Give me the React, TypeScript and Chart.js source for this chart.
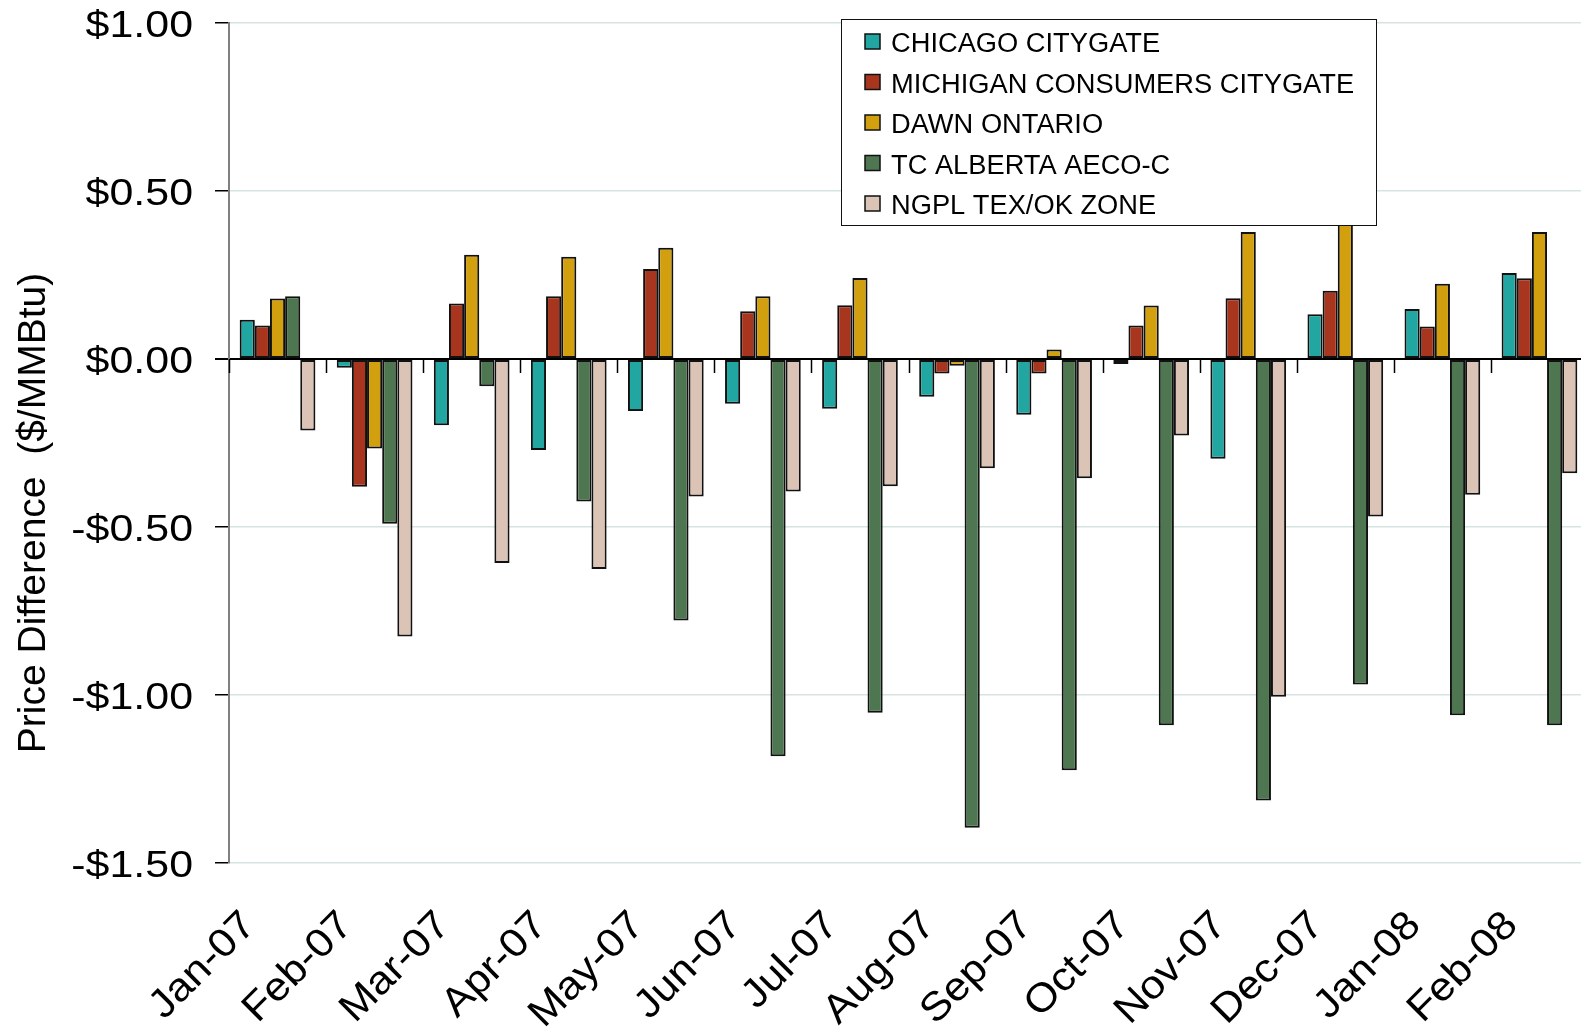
import React, { useEffect, useRef } from "react";
import { Chart, registerables } from "chart.js";

Chart.register(...registerables);

const categories = [
  "Jan-07", "Feb-07", "Mar-07", "Apr-07", "May-07", "Jun-07", "Jul-07",
  "Aug-07", "Sep-07", "Oct-07", "Nov-07", "Dec-07", "Jan-08", "Feb-08",
];

const chicagoCitygate = [0.117, -0.026, -0.197, -0.271, -0.155, -0.133, -0.148, -0.112, -0.166, -0.015, -0.297, 0.133, 0.149, 0.256];
const michiganConsumers = [0.1, -0.38, 0.165, 0.187, 0.268, 0.142, 0.16, -0.043, -0.043, 0.1, 0.181, 0.203, 0.097, 0.24];
const dawnOntario = [0.18, -0.266, 0.31, 0.304, 0.331, 0.187, 0.241, -0.02, 0.028, 0.159, 0.378, 0.44, 0.224, 0.378];
const tcAlberta = [0.187, -0.49, -0.081, -0.424, -0.778, -1.182, -1.053, -1.395, -1.224, -1.09, -1.314, -0.969, -1.06, -1.09];
const ngplTexOk = [-0.213, -0.826, -0.607, -0.625, -0.409, -0.394, -0.379, -0.325, -0.355, -0.228, -1.005, -0.469, -0.404, -0.34];

const seriesNames = [
  "CHICAGO CITYGATE",
  "MICHIGAN CONSUMERS CITYGATE",
  "DAWN ONTARIO",
  "TC ALBERTA AECO-C",
  "NGPL TEX/OK ZONE",
];
const seriesValues = [chicagoCitygate, michiganConsumers, dawnOntario, tcAlberta, ngplTexOk];
const seriesColors = ["#22A6A2", "#A8361F", "#D2A00F", "#4E7650", "#DBC3B5"];

const yTickValues = [1, 0.5, 0, -0.5, -1, -1.5];
const yTickLabels = ["$1.00", "$0.50", "$0.00", "-$0.50", "-$1.00", "-$1.50"];
const yAxisTitle = "Price Difference  ($/MMBtu)";

const FONT = '"Liberation Sans", Arial, Helvetica, sans-serif';

function drawText(
  ctx: CanvasRenderingContext2D,
  text: string,
  x: number,
  y: number,
  size: number,
  sx: number,
  align: CanvasTextAlign,
  angle = 0
) {
  ctx.save();
  ctx.translate(x, y);
  ctx.rotate(angle);
  ctx.scale(sx, 1);
  ctx.font = `${size}px ${FONT}`;
  ctx.fillStyle = "#000";
  ctx.textAlign = align;
  ctx.textBaseline = "alphabetic";
  ctx.fillText(text, 0, 0);
  ctx.restore();
}

const overlayPlugin = {
  id: "overlayText",
  afterDraw(chart: any) {
    const ctx: CanvasRenderingContext2D = chart.ctx;
    const xs = chart.scales.x;
    const ys = chart.scales.y;
    const area = chart.chartArea;
    ctx.save();

    // category boundary tick marks below the zero line
    const zeroY = ys.getPixelForValue(0);
    ctx.strokeStyle = "#000";
    ctx.lineWidth = 1.5;
    for (let i = 0; i <= categories.length; i++) {
      let px: number;
      if (i === 0) px = area.left;
      else if (i === categories.length) px = area.right;
      else px = (xs.getPixelForValue(i - 1) + xs.getPixelForValue(i)) / 2;
      px = Math.round(px) + 0.5;
      ctx.beginPath();
      ctx.moveTo(px, zeroY);
      ctx.lineTo(px, zeroY + 14);
      ctx.stroke();
    }

    // y tick labels
    yTickValues.forEach((v, i) => {
      const py = ys.getPixelForValue(v);
      drawText(ctx, yTickLabels[i], area.left - 36, py + 14, 37, 1.16, "right");
    });

    // y axis title
    const midY = (area.top + area.bottom) / 2 + 70;
    drawText(ctx, yAxisTitle, 45, midY, 39, 1, "center", -Math.PI / 2);

    // x tick labels
    categories.forEach((c, i) => {
      const px = xs.getPixelForValue(i);
      drawText(ctx, c, px - 20, area.bottom + 64, 40, 1.08, "right", -Math.PI / 4);
    });

    // legend
    const lx = area.left + 612;
    const ly = area.top - 4;
    const lw = 535;
    const lh = 206;
    ctx.fillStyle = "#fff";
    ctx.fillRect(lx, ly, lw, lh);
    ctx.strokeStyle = "#111";
    ctx.lineWidth = 1;
    ctx.strokeRect(lx + 0.5, ly + 0.5, lw, lh);
    seriesNames.forEach((name, i) => {
      const base = ly + 33 + i * 40.5;
      ctx.fillStyle = seriesColors[i];
      ctx.fillRect(lx + 24, base - 18, 15, 15);
      ctx.strokeStyle = "#111";
      ctx.lineWidth = 1.5;
      ctx.strokeRect(lx + 24, base - 18, 15, 15);
      drawText(ctx, name, lx + 50, base, 27, 1.01, "left");
    });

    ctx.restore();
  },
};

export default function App() {
  const canvasRef = useRef<HTMLCanvasElement | null>(null);

  useEffect(() => {
    const canvas = canvasRef.current;
    if (!canvas) return;
    const chart = new Chart(canvas, {
      type: "bar",
      data: {
        labels: categories,
        datasets: seriesNames.map((name, i) => ({
          label: name,
          data: seriesValues[i],
          backgroundColor: seriesColors[i],
          borderColor: "#111",
          borderWidth: 2,
          borderSkipped: false,
          barPercentage: 1.0,
          categoryPercentage: 0.78,
        })),
      },
      options: {
        responsive: false,
        animation: false,
        devicePixelRatio: 1,
        layout: { padding: { top: 23, right: 12, bottom: 0, left: 0 } },
        plugins: {
          legend: { display: false },
          tooltip: { enabled: false },
          title: { display: false },
        },
        scales: {
          x: {
            type: "category",
            offset: true,
            grid: { display: false },
            border: { display: false },
            ticks: { display: false },
            afterFit: (scale: any) => {
              scale.height = 166;
            },
          },
          y: {
            min: -1.5,
            max: 1.0,
            ticks: { display: false, stepSize: 0.5 },
            grid: {
              color: (c: any) => (c.tick && c.tick.value === 0 ? "#000" : "#D6E3E3"),
              lineWidth: (c: any) => (c.tick && c.tick.value === 0 ? 2 : 1.5),
              tickColor: "#000",
              tickLength: 14,
              drawTicks: true,
            },
            border: { display: true, color: "#808080", width: 2 },
            afterFit: (scale: any) => {
              scale.width = 229;
            },
          },
        },
      },
      plugins: [overlayPlugin],
    } as any);
    return () => chart.destroy();
  }, []);

  return (
    <div
      style={{
        position: "fixed",
        left: 0,
        top: 0,
        width: 1581,
        height: 1029,
        overflow: "hidden",
        background: "#fff",
      }}
    >
      <canvas ref={canvasRef} width={1600} height={1029} style={{ display: "block" }} />
    </div>
  );
}
